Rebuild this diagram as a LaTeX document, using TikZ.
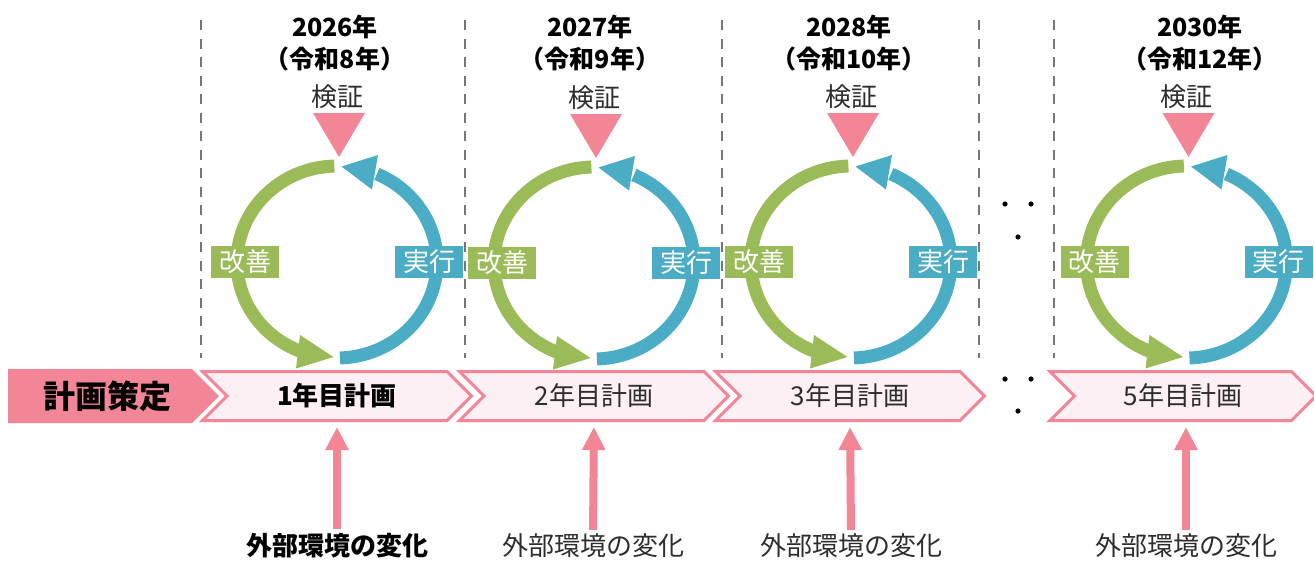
\documentclass[tikz,border=0pt]{standalone}
\usepackage{fontspec}
\setmainfont{Noto Sans CJK JP}
\usetikzlibrary{arrows.meta,calc}
\definecolor{pk}{RGB}{242,134,151}
\definecolor{pkl}{RGB}{253,240,244}
\definecolor{gr}{RGB}{155,187,89}
\definecolor{bl}{RGB}{75,172,198}
\definecolor{dg}{RGB}{118,118,118}
\definecolor{tx}{RGB}{45,45,45}
\pgfdeclarelayer{bg}
\pgfsetlayers{bg,main}
\tikzset{
  guide/.style={draw=dg, line width=2.2pt, dash pattern=on 10pt off 8.5pt},
  yeartxt/.style={font=\fontsize{25}{32}\selectfont\bfseries, align=center, inner sep=0pt, text=black},
  lbl/.style={font=\fontsize{26}{30}\selectfont, inner sep=0pt, text=tx},
  lblb/.style={font=\fontsize{26}{30}\selectfont\bfseries, inner sep=0pt, text=black},
  gbox/.style={fill=gr, text=white, minimum width=68pt, minimum height=32pt, inner sep=0pt, font=\fontsize{26}{30}\selectfont},
  bbox/.style={fill=bl, text=white, minimum width=68pt, minimum height=32pt, inner sep=0pt, font=\fontsize{26}{30}\selectfont},
  chevnode/.style={minimum height=49pt, inner sep=0pt, outer sep=0pt, font=\fontsize{26}{30}\selectfont, text=tx},
  chevline/.style={draw=pk, fill=pkl, line width=3pt, line join=miter},
  uparr/.style={draw=pk, line width=8pt, -{Triangle[length=23pt,width=22pt]}, shorten >=6.5pt, shorten <=4pt},
  cyc/.pic={
    \draw[gr, line width=13pt] (268.5:100 and 96) arc[start angle=268.5, end angle=111.5, x radius=100, y radius=96];
    \fill[gr] (-37,73) -- (-3.5,95) -- (-41,106.5) -- cycle;
    \draw[bl, line width=13pt] (88.3:100 and 96) arc[start angle=88.3, end angle=-66.5, x radius=100, y radius=96];
    \fill[bl] (41,-107) -- (4.5,-95.5) -- (35,-72.5) -- cycle;
    \node[gbox] (-kz) at (-92,0) {改善};
    \node[bbox] (-jk) at (92,0) {実行};
    \fill[pk] (-24,-149) -- (28,-149) -- (2,-105) -- cycle;
    \node[lbl] (-kn) at (0,-165) {検証};
  }
}
\newcommand\chevshape[1]{%
  \begin{pgfonlayer}{bg}
    \filldraw[chevline] (#1.north west) -- ([xshift=-24.5pt]#1.north east) -- (#1.east)
      -- ([xshift=-24.5pt]#1.south east) -- (#1.south west) -- ([xshift=24.5pt]#1.west) -- cycle;
  \end{pgfonlayer}}
\begin{document}
\begin{tikzpicture}[x=1pt,y=-1pt]
\useasboundingbox (0,0) rectangle (1314,560);
\clip (0,0) rectangle (1314,560);

% dashed guides
\foreach \gx in {201,465,722,979,1054} \draw[guide] (\gx,20) -- (\gx,358);

% year headings
\node[yeartxt] (y1) at (335,43) {2026年\\（令和8年）};
\node[yeartxt] (y2) at (590,43) {2027年\\（令和9年）};
\node[yeartxt] (y3) at (849,43) {2028年\\（令和10年）};
\node[yeartxt] (y5) at (1200,43) {2030年\\（令和12年）};

% cycles
\pic (c1) at (337,262) {cyc};
\pic (c2) at (594,263) {cyc};
\pic (c3) at (851,262) {cyc};
\pic (c5) at (1186.5,262) {cyc};

% plan start arrow
\fill[pk] (8,369) -- (192,369) -- (219,396) -- (192,423) -- (8,423) -- cycle;
\node[lblb, font=\fontsize{32}{34}\selectfont\bfseries] (kk) at (107,396) {計画策定};

% chevrons
\node[chevnode, minimum width=269pt, text=black, font=\fontsize{26}{30}\selectfont\bfseries] (p1) at (337,396) {1年目計画};
\chevshape{p1}
\node[chevnode, minimum width=269pt] (p2) at (594,396) {2年目計画};
\chevshape{p2}
\node[chevnode, minimum width=269pt] (p3) at (850,396) {3年目計画};
\chevshape{p3}
\node[chevnode, minimum width=266pt] (p5) at (1183,396) {5年目計画};
\chevshape{p5}

% ellipsis dots
\foreach \dx/\dy in {1005/204,1031/204,1018/237,1005/379,1031/379,1018/411}
  \fill[black] (\dx,\dy) circle[radius=2.6pt];

% external change texts
\node[lblb] (e1) at (337,546) {外部環境の変化};
\node[lbl] (e2) at (593,546) {外部環境の変化};
\node[lbl] (e3) at (851,546) {外部環境の変化};
\node[lbl] (e5) at (1186,546) {外部環境の変化};

\draw[uparr] (e1.north) -- (p1.south);
\draw[uparr] (e2.north) -- (p2.south);
\draw[uparr] (e3.north) -- (p3.south);
\draw[uparr] (e5.north) -- (p5.south -| e5.north);
\end{tikzpicture}
\end{document}
